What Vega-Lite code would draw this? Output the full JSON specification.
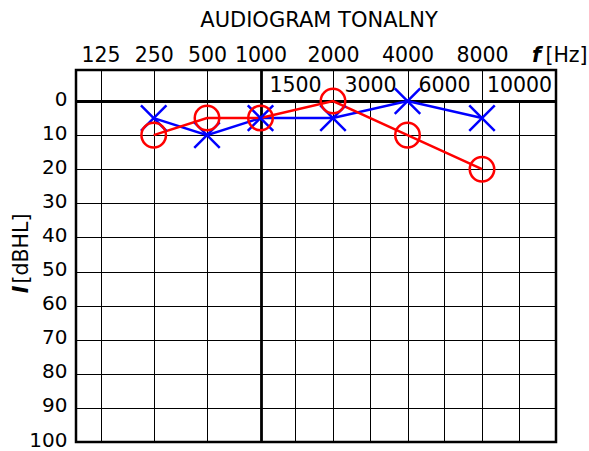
{
  "$schema": "https://vega.github.io/schema/vega-lite/v6.json",
  "width": 480,
  "height": 372,
  "autosize": {"type": "none"},
  "padding": {"left": 76, "top": 70, "right": 33, "bottom": 9},
  "background": "white",
  "config": {
    "font": "DejaVu Sans",
    "view": {"stroke": "black", "strokeWidth": 2.5}
  },
  "title": {
    "text": "AUDIOGRAM TONALNY",
    "font": "DejaVu Sans",
    "fontSize": 21,
    "fontWeight": "normal",
    "color": "black",
    "anchor": "middle",
    "dx": 3,
    "offset": 14
  },
  "datasets": {
    "prog": [
      {"freq": 250, "ear": "lewe", "db": 5},
      {"freq": 500, "ear": "lewe", "db": 10},
      {"freq": 1000, "ear": "lewe", "db": 5},
      {"freq": 2000, "ear": "lewe", "db": 5},
      {"freq": 4000, "ear": "lewe", "db": 0},
      {"freq": 8000, "ear": "lewe", "db": 5},
      {"freq": 250, "ear": "prawe", "db": 10},
      {"freq": 500, "ear": "prawe", "db": 5},
      {"freq": 1000, "ear": "prawe", "db": 5},
      {"freq": 2000, "ear": "prawe", "db": 0},
      {"freq": 4000, "ear": "prawe", "db": 10},
      {"freq": 8000, "ear": "prawe", "db": 20}
    ],
    "minor": [
      {"freq": 1500},
      {"freq": 3000},
      {"freq": 6000},
      {"freq": 10000}
    ]
  },
  "layer": [
    {
      "data": {"name": "minor"},
      "mark": {"type": "rule", "color": "black", "strokeWidth": 1},
      "encoding": {
        "x": {
          "field": "freq",
          "type": "quantitative",
          "scale": {
            "type": "linear",
            "domain": [90, 125, 250, 500, 1000, 1500, 2000, 3000, 4000, 6000, 8000, 10000, 12000],
            "range": [0, 24.5, 77.7, 131, 184.5, 219.5, 257, 294.5, 331.5, 368.5, 406, 443.5, 480],
            "zero": false,
            "nice": false
          },
          "axis": {
            "orient": "top",
            "values": [125, 250, 500, 1000, 2000, 4000, 8000],
            "format": "d",
            "grid": true,
            "gridColor": "black",
            "gridOpacity": 1,
            "gridWidth": {"condition": {"test": "datum.value === 1000", "value": 2.8}, "value": 1},
            "ticks": false,
            "tickSize": 0,
            "domain": false,
            "labelFont": "DejaVu Sans",
            "labelFontSize": 20.5,
            "labelColor": "black",
            "labelPadding": 9,
            "labelBaseline": "alphabetic",
            "labelFlush": false,
            "labelOverlap": false,
            "title": "[Hz]",
            "titleFont": "DejaVu Sans",
            "titleFontSize": 20.5,
            "titleFontWeight": "normal",
            "titleColor": "black",
            "titleX": 490,
            "titleY": -9,
            "titleAlign": "center",
            "titleBaseline": "alphabetic"
          }
        },
        "y": {
          "datum": 0,
          "type": "quantitative",
          "scale": {"domain": [-9.1, 100], "reverse": true, "zero": false, "nice": false},
          "axis": {
            "orient": "left",
            "values": [0, 10, 20, 30, 40, 50, 60, 70, 80, 90, 100],
            "grid": true,
            "gridColor": "black",
            "gridOpacity": 1,
            "gridWidth": {"condition": {"test": "datum.value === 0", "value": 2.8}, "value": 1},
            "ticks": false,
            "tickSize": 0,
            "domain": false,
            "labelFont": "DejaVu Sans",
            "labelFontSize": 20,
            "labelColor": "black",
            "labelPadding": 9,
            "labelOffset": -2,
            "labelFlush": false,
            "labelOverlap": false,
            "title": "[dBHL]",
            "titleFont": "DejaVu Sans",
            "titleFontSize": 20.5,
            "titleFontWeight": "normal",
            "titleColor": "black",
            "titleAngle": 270,
            "titleX": -49,
            "titleY": 178,
            "titleAlign": "center",
            "titleBaseline": "alphabetic"
          }
        },
        "y2": {"datum": 100}
      }
    },
    {
      "data": {"name": "minor"},
      "mark": {"type": "text", "fontSize": 20.5, "font": "DejaVu Sans", "baseline": "middle", "align": "center", "color": "black"},
      "encoding": {
        "x": {
          "field": "freq",
          "type": "quantitative",
          "axis": {
            "orient": "top",
            "values": [],
            "labels": false,
            "ticks": false,
            "domain": false,
            "grid": false,
            "title": "f",
            "titleFont": "DejaVu Sans",
            "titleFontSize": 20.5,
            "titleFontWeight": "bold",
            "titleFontStyle": "italic",
            "titleColor": "black",
            "titleX": 460,
            "titleY": -9,
            "titleAlign": "center",
            "titleBaseline": "alphabetic"
          }
        },
        "y": {
          "datum": -4.5,
          "type": "quantitative",
          "axis": {
            "orient": "left",
            "values": [],
            "labels": false,
            "ticks": false,
            "domain": false,
            "grid": false,
            "title": "I",
            "titleFont": "DejaVu Sans",
            "titleFontSize": 20.5,
            "titleFontWeight": "bold",
            "titleFontStyle": "italic",
            "titleColor": "black",
            "titleAngle": 270,
            "titleX": -49,
            "titleY": 219,
            "titleAlign": "center",
            "titleBaseline": "alphabetic"
          }
        },
        "text": {"field": "freq", "type": "quantitative", "format": "d"}
      }
    },
    {
      "data": {"name": "prog"},
      "transform": [{"filter": "datum.ear === 'lewe'"}],
      "mark": {"type": "line", "color": "#0000ff", "strokeWidth": 2.5},
      "encoding": {
        "x": {"field": "freq", "type": "quantitative", "axis": null},
        "y": {"field": "db", "type": "quantitative", "axis": null}
      }
    },
    {
      "data": {"name": "prog"},
      "transform": [{"filter": "datum.ear === 'prawe'"}],
      "mark": {"type": "line", "color": "#ff0000", "strokeWidth": 2.5},
      "encoding": {
        "x": {"field": "freq", "type": "quantitative", "axis": null},
        "y": {"field": "db", "type": "quantitative", "axis": null}
      }
    },
    {
      "data": {"name": "prog"},
      "transform": [{"filter": "datum.ear === 'lewe'"}],
      "mark": {"type": "point", "shape": "M-1,-1L1,1M-1,1L1,-1", "filled": false, "color": "#0000ff", "strokeWidth": 2.5, "size": 650, "opacity": 1},
      "encoding": {
        "x": {"field": "freq", "type": "quantitative", "axis": null},
        "y": {"field": "db", "type": "quantitative", "axis": null}
      }
    },
    {
      "data": {"name": "prog"},
      "transform": [{"filter": "datum.ear === 'prawe'"}],
      "mark": {"type": "point", "shape": "circle", "filled": false, "color": "#ff0000", "strokeWidth": 2.5, "size": 600, "opacity": 1},
      "encoding": {
        "x": {"field": "freq", "type": "quantitative", "axis": null},
        "y": {"field": "db", "type": "quantitative", "axis": null}
      }
    }
  ],
  "resolve": {"axis": {"x": "independent", "y": "independent"}}
}
